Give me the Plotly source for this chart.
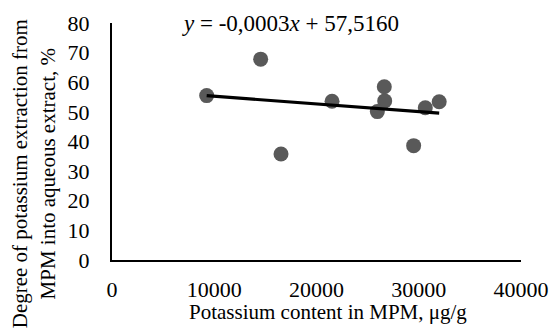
import numpy as np
import plotly.graph_objects as go

# Data
potassium_content = [9260, 14540, 16530, 21520, 26630, 26670, 25950, 29500, 30640, 32000]
extraction_degree = [55.5, 67.8, 35.8, 53.6, 58.5, 53.7, 50.1, 38.6, 51.4, 53.4]
x_ticks = [0, 10000, 20000, 30000, 40000]
y_ticks = [0, 10, 20, 30, 40, 50, 60, 70, 80]
equation_text = "<i>y</i> = -0,0003<i>x</i> + 57,5160"
x_title = "Potassium content in MPM, μg/g"
y_title = "Degree of potassium extraction from<br>MPM into aqueous extract, %"

slope, intercept = np.polyfit(potassium_content, extraction_degree, 1)
trend_x = [min(potassium_content), max(potassium_content)]
trend_y = [slope * v + intercept for v in trend_x]

FONT = "Liberation Serif"

fig = go.Figure()
fig.add_trace(go.Scatter(
    x=potassium_content, y=extraction_degree, mode="markers",
    marker=dict(color="#595959", size=15, line=dict(width=0)),
    showlegend=False, hoverinfo="x+y"))
fig.add_trace(go.Scatter(
    x=trend_x, y=trend_y, mode="lines",
    line=dict(color="black", width=3.2),
    showlegend=False))

fig.update_layout(
    width=553, height=329,
    margin=dict(l=112, r=32, t=23, b=69, autoexpand=False),
    paper_bgcolor="white", plot_bgcolor="white",
    font=dict(family=FONT, color="black", size=22),
    xaxis=dict(range=[0, 40000], tickvals=x_ticks, ticktext=[str(v) for v in x_ticks],
               showgrid=False, zeroline=False, showline=True, linecolor="black",
               linewidth=2, ticks="", ticklabelstandoff=9, automargin=False,
               tickfont=dict(family=FONT, size=22, color="black")),
    yaxis=dict(range=[0, 80], tickvals=y_ticks, ticktext=[str(v) for v in y_ticks],
               showgrid=False, zeroline=False, showline=True, linecolor="black",
               linewidth=2, ticks="", ticklabelstandoff=16, automargin=False,
               tickfont=dict(family=FONT, size=22, color="black")),
    annotations=[
        dict(text=equation_text, xref="paper", yref="paper", x=0.436, y=0.996,
             xanchor="center", yanchor="middle", showarrow=False,
             font=dict(family=FONT, size=23, color="black")),
        dict(text=x_title, xref="paper", yref="paper", x=0.529, y=-0.219,
             xanchor="center", yanchor="middle", showarrow=False,
             font=dict(family=FONT, size=21, color="black")),
        dict(text=y_title, xref="paper", yref="paper", x=-0.19, y=0.363,
             xanchor="center", yanchor="middle", showarrow=False, textangle=-90,
             font=dict(family=FONT, size=21, color="black")),
    ],
)

fig.write_html("out.html", config={"displayModeBar": False},
               post_script="document.body.style.margin='0';")
